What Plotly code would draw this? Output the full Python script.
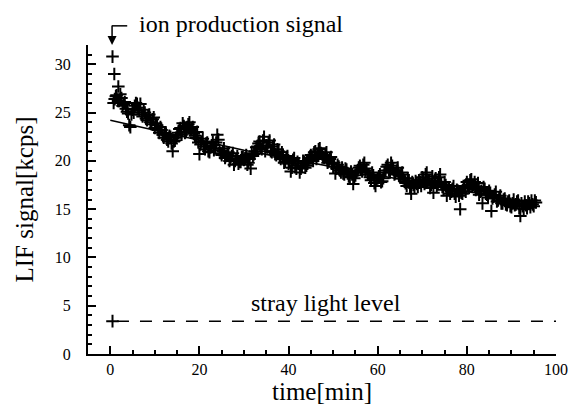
import plotly.graph_objects as go

# LIF signal readings [kcps] vs time [min]
time_min = [0.5, 0.9, 1.0, 1.4, 1.8, 2.0, 2.5, 3.0, 3.5, 4.0, 4.5, 5.0, 5.5, 6.0, 6.5, 7.0, 7.5, 8.0, 8.5, 9.0,
            9.5, 10.0, 10.5, 11.0, 11.5, 12.0, 12.5, 13.0, 13.5, 14.0, 14.5, 15.0, 15.5, 16.0, 16.5, 17.0, 17.5,
            18.0, 18.5, 19.0, 19.5, 20.0, 20.5, 21.0, 21.5, 22.0, 22.5, 23.0, 23.5, 24.0, 24.5, 25.0, 25.5, 26.0,
            26.5, 27.0, 27.5, 28.0, 28.5, 29.0, 29.5, 30.0, 30.5, 31.0, 31.5, 32.0, 32.5, 33.0, 33.5, 34.0, 34.5,
            35.0, 35.5, 36.0, 36.5, 37.0, 37.5, 38.0, 38.5, 39.0, 39.5, 40.0, 40.5, 41.0, 41.5, 42.0, 42.5, 43.0,
            43.5, 44.0, 44.5, 45.0, 45.5, 46.0, 46.5, 47.0, 47.5, 48.0, 48.5, 49.0, 49.5, 50.0, 50.5, 51.0, 51.5,
            52.0, 52.5, 53.0, 53.5, 54.0, 54.5, 55.0, 55.5, 56.0, 56.5, 57.0, 57.5, 58.0, 58.5, 59.0, 59.5, 60.0,
            60.5, 61.0, 61.5, 62.0, 62.5, 63.0, 63.5, 64.0, 64.5, 65.0, 65.5, 66.0, 66.5, 67.0, 67.5, 68.0, 68.5,
            69.0, 69.5, 70.0, 70.5, 71.0, 71.5, 72.0, 72.5, 73.0, 73.5, 74.0, 74.5, 75.0, 75.5, 76.0, 76.5, 77.0,
            77.5, 78.0, 78.5, 79.0, 79.5, 80.0, 80.5, 81.0, 81.5, 82.0, 82.5, 83.0, 83.5, 84.0, 84.5, 85.0, 85.5,
            86.0, 86.5, 87.0, 87.5, 88.0, 88.5, 89.0, 89.5, 90.0, 90.5, 91.0, 91.5, 92.0, 92.5, 93.0, 93.5, 94.0,
            94.5, 95.0, 95.5]
lif_signal = [30.8, 29.0, 26.4, 26.8, 27.7, 26.2, 26.5, 25.9, 25.4, 24.9, 23.5, 25.3, 25.7, 25.9, 25.2, 24.8, 25.3,
              24.4, 24.7, 24.0, 24.3, 23.4, 23.7, 22.9, 23.2, 22.4, 22.8, 22.0, 22.5, 21.0, 22.1, 22.6, 23.3, 22.7,
              23.6, 23.0, 23.8, 23.2, 23.5, 22.6, 23.0, 20.7, 22.0, 21.5, 21.8, 21.0, 21.4, 22.0, 21.3, 22.7, 21.1,
              20.6, 21.3, 20.5, 20.9, 20.2, 20.8, 20.0, 20.5, 19.9, 20.4, 20.1, 20.6, 19.8, 19.2, 20.5, 21.0, 21.5,
              22.0, 21.2, 22.5, 21.6, 21.9, 21.0, 21.5, 20.7, 21.2, 20.4, 20.9, 19.8, 20.4, 19.7, 18.9, 20.1, 19.5,
              19.9, 18.8, 19.4, 19.9, 19.5, 20.1, 20.6, 20.0, 21.0, 20.5, 21.3, 20.7, 20.3, 20.9, 20.0, 20.4, 19.4,
              18.7, 19.6, 19.0, 19.3, 18.6, 19.1, 18.4, 18.9, 17.6, 18.5, 19.0, 19.5, 18.9, 19.8, 19.2, 18.6, 18.0,
              18.5, 17.4, 18.2, 18.6, 17.9, 18.8, 19.4, 19.0, 19.8, 19.2, 18.7, 19.3, 18.4, 18.8, 17.9, 17.4, 18.0,
              16.6, 17.5, 17.9, 17.3, 17.8, 18.3, 17.6, 18.8, 18.0, 17.5, 16.7, 18.2, 17.6, 18.6, 17.3, 17.8, 16.4,
              17.2, 16.8, 17.4, 16.3, 16.9, 15.0, 16.6, 17.2, 17.8, 17.2, 18.1, 17.5, 17.0, 17.7, 16.8, 15.6, 17.1,
              16.5, 16.9, 14.8, 16.3, 16.8, 15.9, 16.4, 15.6, 16.1, 15.4, 15.9, 15.2, 16.0, 15.5, 15.9, 14.3, 15.3,
              15.8, 15.1, 15.6, 15.9, 15.3, 15.7]

# readings taken in between (quarter-minute offsets)
time_min_b = [0.75, 1.25, 1.75, 2.25, 2.75, 3.25, 3.75, 4.25, 4.75, 5.25, 5.75, 6.25, 6.75, 7.25, 7.75, 8.25, 8.75,
              9.25, 9.75, 10.25, 10.75, 11.25, 11.75, 12.25, 12.75, 13.25, 13.75, 14.25, 14.75, 15.25, 15.75, 16.25,
              16.75, 17.25, 17.75, 18.25, 18.75, 19.25, 19.75, 20.25, 20.75, 21.25, 21.75, 22.25, 22.75, 23.25,
              23.75, 24.25, 24.75, 25.25, 25.75, 26.25, 26.75, 27.25, 27.75, 28.25, 28.75, 29.25, 29.75, 30.25,
              30.75, 31.25, 31.75, 32.25, 32.75, 33.25, 33.75, 34.25, 34.75, 35.25, 35.75, 36.25, 36.75, 37.25,
              37.75, 38.25, 38.75, 39.25, 39.75, 40.25, 40.75, 41.25, 41.75, 42.25, 42.75, 43.25, 43.75, 44.25,
              44.75, 45.25, 45.75, 46.25, 46.75, 47.25, 47.75, 48.25, 48.75, 49.25, 49.75, 50.25, 50.75, 51.25,
              51.75, 52.25, 52.75, 53.25, 53.75, 54.25, 54.75, 55.25, 55.75, 56.25, 56.75, 57.25, 57.75, 58.25,
              58.75, 59.25, 59.75, 60.25, 60.75, 61.25, 61.75, 62.25, 62.75, 63.25, 63.75, 64.25, 64.75, 65.25,
              65.75, 66.25, 66.75, 67.25, 67.75, 68.25, 68.75, 69.25, 69.75, 70.25, 70.75, 71.25, 71.75, 72.25,
              72.75, 73.25, 73.75, 74.25, 74.75, 75.25, 75.75, 76.25, 76.75, 77.25, 77.75, 78.25, 78.75, 79.25,
              79.75, 80.25, 80.75, 81.25, 81.75, 82.25, 82.75, 83.25, 83.75, 84.25, 84.75, 85.25, 85.75, 86.25,
              86.75, 87.25, 87.75, 88.25, 88.75, 89.25, 89.75, 90.25, 90.75, 91.25, 91.75, 92.25, 92.75, 93.25,
              93.75, 94.25, 94.75, 95.25]
lif_signal_b = [26.0, 26.7, 26.2, 26.9, 25.7, 26.1, 25.1, 23.7, 24.8,
                25.0, 26.0, 25.5, 25.9, 24.6, 25.0, 24.2, 24.8, 23.8, 24.5,
                23.9, 23.2, 23.5, 22.7, 22.9, 22.2, 22.6, 21.8, 22.0, 22.4,
                22.9, 23.4, 23.9, 22.9, 23.5, 24.0, 23.3, 22.8, 22.4, 21.9,
                21.7, 22.3, 21.2, 21.9, 20.9, 21.6, 21.1, 21.9, 22.2, 20.8,
                21.0, 20.3, 20.7, 20.0, 20.5, 19.6, 20.2, 19.7, 19.9, 20.4,
                20.3, 19.6, 20.2, 20.8, 20.7, 21.4, 21.8, 21.3, 22.1, 21.0,
                21.4, 22.1, 20.9, 21.7, 20.6, 21.0, 20.2, 20.6, 19.9, 20.5,
                19.9, 19.3, 20.3, 19.2, 19.7, 19.2, 20.0, 19.3, 19.7, 20.3,
                20.4, 20.9, 20.2, 21.2, 20.8, 20.4, 20.6, 19.8, 20.2, 19.7,
                19.8, 19.2, 19.4, 18.8, 18.7, 19.2, 18.7, 18.3, 18.6, 18.2,
                18.8, 19.3, 19.1, 19.6, 19.0, 18.6, 18.3, 18.8, 17.7, 18.0,
                18.4, 17.8, 18.2, 19.0, 19.6, 18.8, 19.5, 18.6, 19.0, 18.5,
                18.6, 18.2, 17.7, 18.2, 17.3, 17.8, 17.2, 17.6, 18.0, 17.4,
                18.1, 18.6, 17.8, 17.2, 18.4, 17.9, 17.4, 18.3, 17.6, 17.0,
                17.5, 17.0, 16.6, 17.1, 16.6, 17.0, 16.4, 16.7, 17.4, 16.8,
                17.5, 18.0, 17.3, 17.8, 17.2, 16.5, 16.9, 17.3, 16.6, 16.2,
                16.7, 16.1, 16.5, 15.8, 16.2, 15.6, 16.0, 15.5, 15.8, 15.3,
                15.6, 15.4, 15.8, 15.1, 15.6, 15.0, 15.4, 15.8, 15.2, 15.5,
                15.9]

# fitted decay line
fit_time = [0.0, 30.0, 60.0, 95.0]
fit_signal = [24.2, 21.1, 18.5, 15.6]

# stray light measurement
stray_time = [0.5]
stray_signal = [3.4]
stray_line_time = [1.5, 100.0]
stray_line_signal = [3.4, 3.4]

FONT = "Liberation Serif"
plus = dict(symbol="cross-thin", size=9, line=dict(width=2, color="black"))

fig = go.Figure()
fig.add_trace(go.Scatter(x=time_min, y=lif_signal, mode="markers", marker=plus))
fig.add_trace(go.Scatter(x=time_min_b, y=lif_signal_b, mode="markers", marker=plus))
fig.add_trace(go.Scatter(x=fit_time, y=fit_signal, mode="lines", line=dict(color="black", width=1.5)))
fig.add_trace(go.Scatter(x=stray_time, y=stray_signal, mode="markers", marker=plus))
fig.add_trace(go.Scatter(x=stray_line_time, y=stray_line_signal, mode="lines",
                         line=dict(color="black", width=1.5, dash="12px,11px")))

# bent arrow to the ion production spike
fig.add_shape(type="line", xref="x", yref="paper", x0=0.4, x1=3.8, y0=1.062, y1=1.062,
              line=dict(color="black", width=1.5))
fig.add_annotation(x=0.4, y=32.0, xref="x", yref="y", ax=0, ay=-21, showarrow=True,
                   arrowhead=2, arrowsize=1.2, arrowwidth=1.5, arrowcolor="black", text="")
fig.add_annotation(x=6.0, y=1.068, xref="x", yref="paper", text="ion production signal",
                   showarrow=False, xanchor="left", yanchor="middle",
                   font=dict(family=FONT, size=24, color="black"))
fig.add_annotation(x=48.5, y=5.3, xref="x", yref="y", text="stray light level",
                   showarrow=False, font=dict(family=FONT, size=24, color="black"))

fig.update_layout(
    width=572, height=408,
    margin=dict(l=88, r=16, t=45, b=54),
    plot_bgcolor="white", paper_bgcolor="white",
    showlegend=False,
    font=dict(family=FONT, size=16, color="black"),
)
fig.update_xaxes(range=[-5, 100], tickvals=[0, 20, 40, 60, 80, 100], ticks="inside", ticklen=8,
                 tickwidth=1.5, tickcolor="black", showline=True, linecolor="black", linewidth=2,
                 showgrid=False, zeroline=False, automargin=False, ticklabelstandoff=0,
                 minor=dict(dtick=5, tick0=0, ticks="inside", ticklen=4, tickwidth=1.5, tickcolor="black"),
                 title=dict(text="time[min]", font=dict(family=FONT, size=25), standoff=0))
fig.update_yaxes(range=[0, 32], tickvals=[0, 5, 10, 15, 20, 25, 30], ticks="inside", ticklen=8,
                 tickwidth=1.5, tickcolor="black", showline=True, linecolor="black", linewidth=2,
                 showgrid=False, zeroline=False, automargin=False, ticklabelstandoff=12,
                 minor=dict(dtick=1, tick0=0, ticks="inside", ticklen=4, tickwidth=1.5, tickcolor="black"),
                 title=dict(text="LIF signal[kcps]", font=dict(family=FONT, size=25), standoff=14))

# drop the default page margin so the figure fills the window exactly
fig.write_html("out.html", config={"displayModeBar": False},
               post_script="document.body.style.margin='0';")
